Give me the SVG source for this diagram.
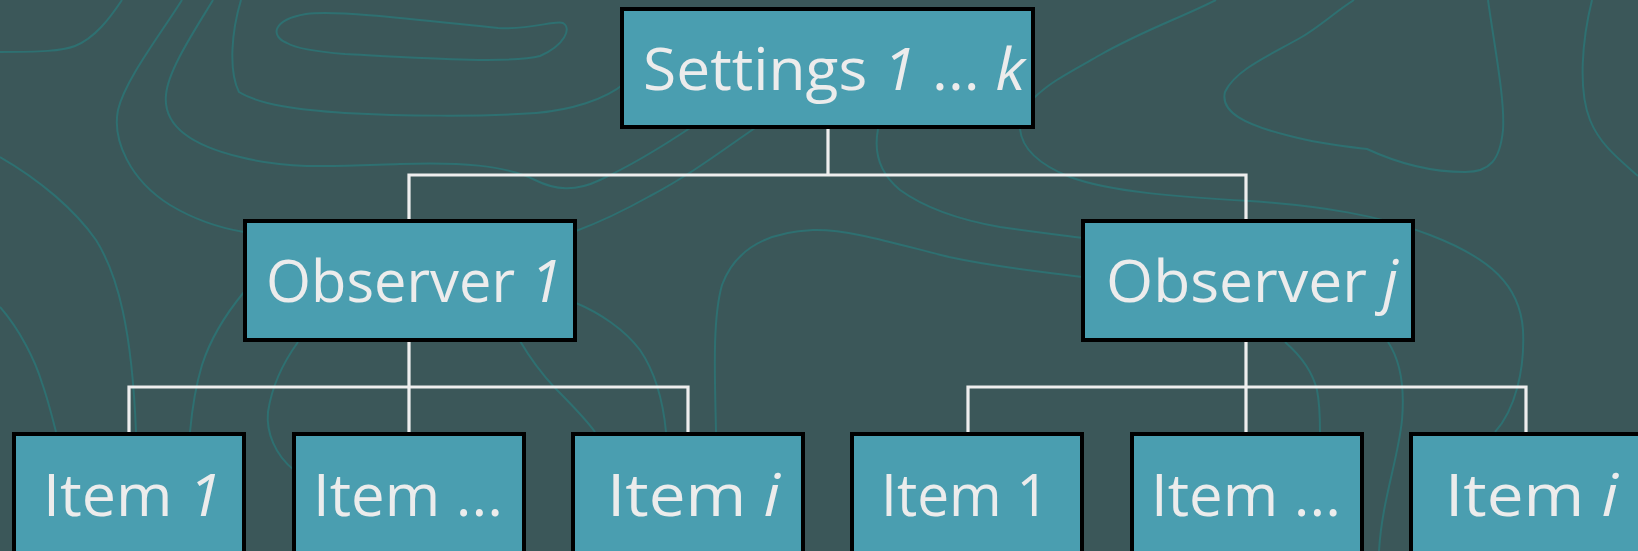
<svg xmlns="http://www.w3.org/2000/svg" width="1638" height="551" viewBox="0 0 1638 551">
<style>
.bg{fill:#3b5759}
.contour{fill:none;stroke:#2e7071;stroke-width:2}
.box{fill:#4a9eb0;stroke:#000;stroke-width:4}
.conn{fill:none;stroke:#eeeeee;stroke-width:3.2}
.lbl{font-family:"Comic Sans MS","Open Sans","Liberation Sans",sans-serif;font-size:58px;font-weight:500;fill:#ececec}
.it{font-style:italic}
</style>
<rect class="bg" x="0" y="0" width="1638" height="551"/>
<g id="background-contours">
<path class="contour" d="M0,52 C40,52 62,51 75,46 C95,38 110,18 122,0"/>
<path class="contour" d="M182,0 C160,35 125,80 118,110 C112,140 130,180 170,205 C195,220 220,228 244,232"/>
<path class="contour" d="M213,0 C195,30 168,70 166,95 C163,125 190,145 240,157 C290,170 340,166 400,164 C460,162 505,165 535,180 C555,190 575,192 600,180 C630,166 660,148 690,128"/>
<path class="contour" d="M241,0 C232,30 228,70 239,92 C260,105 300,110 345,113 C400,116 480,117 536,113 C570,110 605,100 625,83"/>
<path class="contour" d="M287,43 C270,36 272,20 306,14 C340,10 420,20 498,28 C530,30 555,20 563,23 C572,28 565,45 540,56 C510,64 420,58 345,54 C320,52 295,48 287,43 Z"/>
<path class="contour" d="M0,157 C40,180 75,210 96,240 C118,275 132,330 136,432"/>
<path class="contour" d="M0,307 C20,330 35,360 42,383 C48,400 53,420 56,432"/>
<path class="contour" d="M244,292 C225,315 210,340 202,365 C196,385 192,410 190,432"/>
<path class="contour" d="M298,342 C285,360 272,385 268,412 C266,432 275,455 294,470"/>
<path class="contour" d="M576,231 C600,222 625,210 650,196 C690,175 720,152 755,128"/>
<path class="contour" d="M576,303 C600,313 625,330 640,350 C655,372 663,400 666,432"/>
<path class="contour" d="M520,341 C530,358 540,372 555,388 C572,405 585,418 595,432"/>
<path class="contour" d="M716,432 C715,380 712,320 722,285 C735,250 765,232 813,230 C850,229 900,245 949,257 C1000,268 1045,272 1083,277"/>
<path class="contour" d="M878,129 C874,150 878,172 900,190 C925,208 960,220 1000,227 C1040,233 1060,235 1083,238"/>
<path class="contour" d="M1216,0 C1180,18 1140,32 1100,55 C1070,72 1050,82 1034,98"/>
<path class="contour" d="M1354,0 C1335,12 1318,28 1300,38 C1270,55 1235,70 1225,92 C1220,112 1245,125 1290,136 C1320,144 1350,147 1367,149 C1395,162 1430,172 1465,172 C1490,172 1500,160 1503,130 C1505,100 1495,50 1488,0"/>
<path class="contour" d="M1592,0 C1582,40 1578,90 1590,120 C1600,145 1620,160 1638,176"/>
<path class="contour" d="M1020,129 C1022,150 1040,165 1070,177 C1110,192 1180,197 1250,201 C1320,206 1380,215 1430,235 C1490,258 1520,285 1523,330 C1525,370 1515,410 1495,432"/>
<path class="contour" d="M1285,342 C1300,355 1312,370 1317,390 C1320,405 1320,420 1320,432"/>
<path class="contour" d="M1388,342 C1400,360 1405,385 1402,420 C1398,460 1382,500 1379,551"/>
</g>
<g id="connectors">
<path class="conn" d="M828,129 V175 M409,221 V175 H1246 V221"/>
<path class="conn" d="M409,340 V387 M129,434 V387 H688 V434 M409,387 V434"/>
<path class="conn" d="M1246,340 V387 M968,434 V387 H1526 V434 M1246,387 V434"/>
</g>
<g id="settings">
<rect class="box" x="622" y="9" width="411" height="118"/>
<text class="lbl" x="643" y="90" textLength="382" lengthAdjust="spacingAndGlyphs">Settings <tspan class="it">1</tspan> ... <tspan class="it">k</tspan></text>
</g>
<g id="observer-1">
<rect class="box" x="245" y="221" width="330" height="119"/>
<text class="lbl" x="266" y="302" textLength="296" lengthAdjust="spacingAndGlyphs">Observer <tspan class="it">1</tspan></text>
</g>
<g id="observer-j">
<rect class="box" x="1083" y="221" width="330" height="119"/>
<text class="lbl" x="1106" y="302" textLength="292" lengthAdjust="spacingAndGlyphs">Observer <tspan class="it">j</tspan></text>
</g>
<g id="item-1-a">
<rect class="box" x="14" y="434" width="230" height="130"/>
<text class="lbl" x="43" y="516" textLength="179" lengthAdjust="spacingAndGlyphs">Item <tspan class="it">1</tspan></text>
</g>
<g id="item-dots-a">
<rect class="box" x="294" y="434" width="230" height="130"/>
<text class="lbl" x="313" y="516" textLength="190" lengthAdjust="spacingAndGlyphs">Item ...</text>
</g>
<g id="item-i-a">
<rect class="box" x="573" y="434" width="230" height="130"/>
<text class="lbl" x="607" y="516" textLength="173" lengthAdjust="spacingAndGlyphs">Item <tspan class="it">i</tspan></text>
</g>
<g id="item-1-b">
<rect class="box" x="852" y="434" width="230" height="130"/>
<text class="lbl" x="881" y="516" textLength="168" lengthAdjust="spacingAndGlyphs">Item 1</text>
</g>
<g id="item-dots-b">
<rect class="box" x="1132" y="434" width="230" height="130"/>
<text class="lbl" x="1151" y="516" textLength="190" lengthAdjust="spacingAndGlyphs">Item ...</text>
</g>
<g id="item-i-b">
<rect class="box" x="1411" y="434" width="230" height="130"/>
<text class="lbl" x="1445" y="516" textLength="173" lengthAdjust="spacingAndGlyphs">Item <tspan class="it">i</tspan></text>
</g>
</svg>
